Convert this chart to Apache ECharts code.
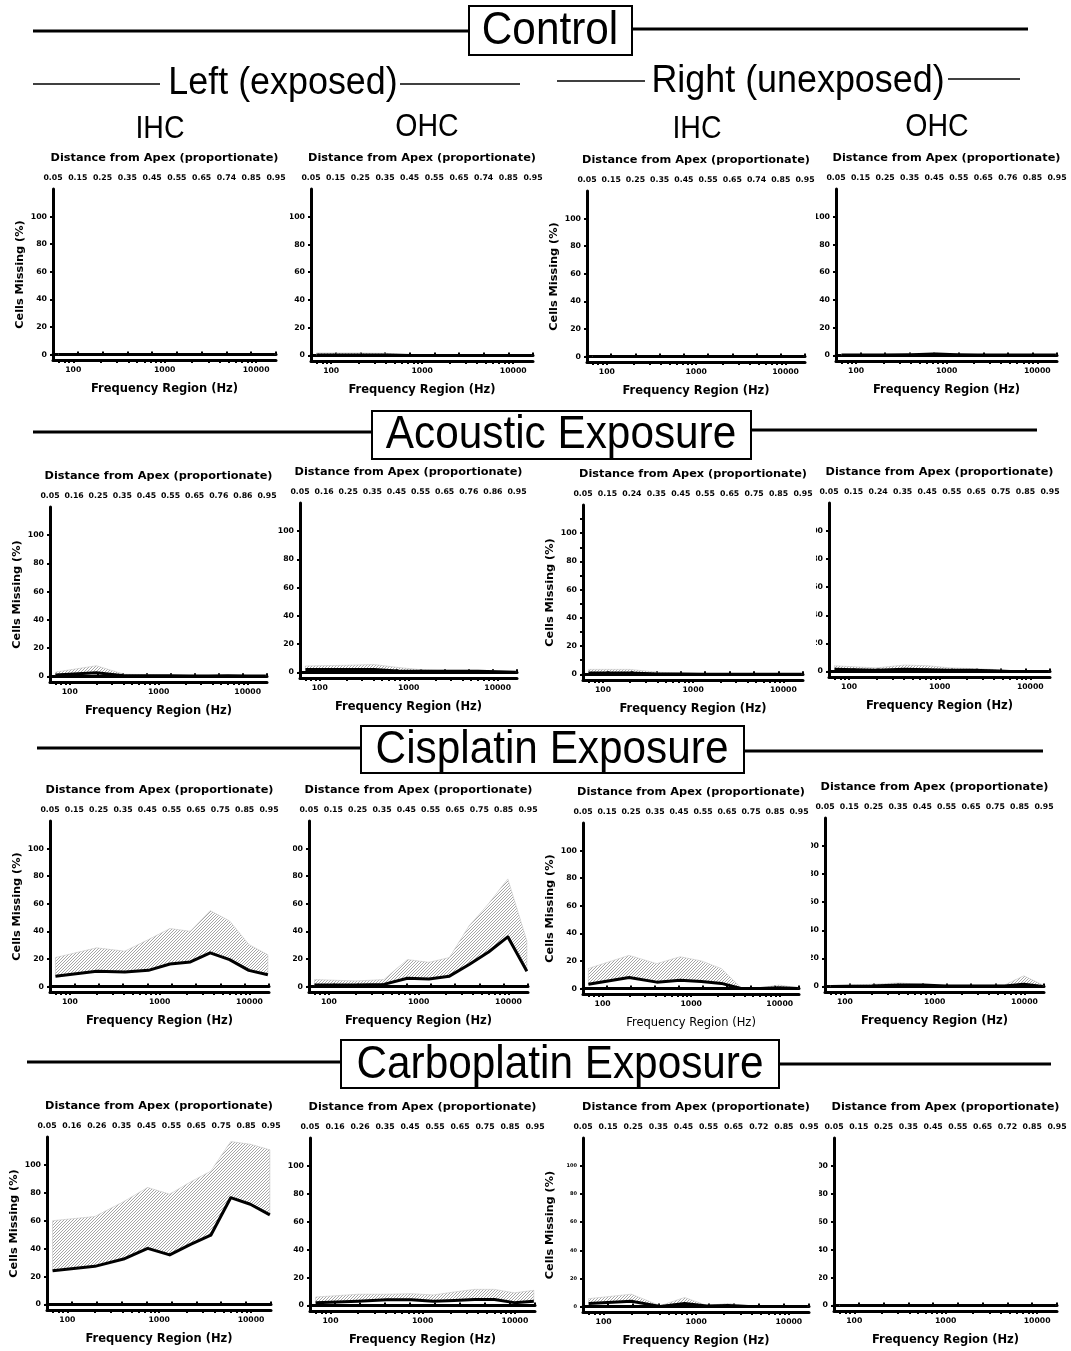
<!DOCTYPE html>
<html>
<head>
<meta charset="utf-8">
<script src="https://cdn.jsdelivr.net/npm/echarts@6/dist/echarts.min.js"></script>
<style>
  html, body { margin: 0; padding: 0; background: #fff; }
  #chart { width: 1071px; height: 1351px; }
</style>
</head>
<body>
<div id="chart"></div>
<script>
// Frequency (Hz) at each proportionate distance from the apex, 0.05 ... 0.95
const freqHz = [69, 199, 409, 749, 1301, 2197, 3649, 6005, 9826, 16024];

// Top-axis (distance) tick labels used by the different panels
const distTicksA = ['0.05','0.15','0.25','0.35','0.45','0.55','0.65','0.74','0.85','0.95'];
const distTicksB = ['0.05','0.15','0.25','0.35','0.45','0.55','0.65','0.76','0.85','0.95'];
const distTicksC = ['0.05','0.16','0.25','0.35','0.45','0.55','0.65','0.76','0.86','0.95'];
const distTicksD = ['0.05','0.15','0.24','0.35','0.45','0.55','0.65','0.75','0.85','0.95'];
const distTicksE = ['0.05','0.15','0.25','0.35','0.45','0.55','0.65','0.75','0.85','0.95'];
const distTicksF = ['0.05','0.16','0.26','0.35','0.45','0.55','0.65','0.75','0.85','0.95'];
const distTicksG = ['0.05','0.15','0.25','0.35','0.45','0.55','0.65','0.72','0.85','0.95'];

// Frequency axis labels and ticks
const freqLabels = [100, 1000, 10000];
const freqTicks = [70, 80, 90, 100, 200, 300, 400, 500, 600, 700, 800, 900,
                   1000, 2000, 3000, 4000, 5000, 6000, 7000, 8000, 9000, 10000];
const pctLabels = [0, 20, 40, 60, 80, 100];
const pctTicksFine = [0, 10, 20, 30, 40, 50, 60, 70, 80, 90, 100, 110];

// Cells missing (%): mean and upper edge of the spread (mean + SD)
// Control
const ctlLeftIhcMean  = [0, 0, 0, 0, 0, 0, 0, 0, 0, 0];
const ctlLeftIhcUpper = [0.5, 0.5, 0.5, 0.5, 0.5, 0.5, 0.5, 0.5, 0.5, 0.5];
const ctlLeftOhcMean  = [0.3, 0.3, 0.3, 0, 0, 0, 0, 0, 0, 0];
const ctlLeftOhcUpper = [1.8, 1.8, 1.5, 0.5, 0.3, 0.3, 0.3, 0.3, 0.3, 0.3];
const ctlRightIhcMean  = [0, 0, 0, 0, 0, 0, 0, 0, 0, 0];
const ctlRightIhcUpper = [0.3, 0.3, 0.3, 0.3, 0.3, 0.3, 0.3, 0.3, 0.3, 0.3];
const ctlRightOhcMean  = [0.3, 0.3, 0.5, 1, 0.5, 0.3, 0.3, 0.3, 0.3, 0.3];
const ctlRightOhcUpper = [0.8, 0.8, 1.2, 2, 1, 0.7, 0.6, 0.6, 0.6, 0.6];
// Acoustic exposure
const acLeftIhcMean  = [1, 2.5, 0.5, 0.5, 0.5, 0.3, 0.3, 0.5, 0.2, 0.3];
const acLeftIhcUpper = [3, 7.5, 1.5, 1.2, 1, 0.8, 0.8, 1, 0.6, 0.6];
const acLeftOhcMean  = [2, 2, 2, 1, 0.8, 0.7, 0.7, 0.7, 0.5, 0];
const acLeftOhcUpper = [4.5, 5, 5.5, 3.5, 2, 1.5, 1.5, 1.5, 1.2, 0.5];
const acRightIhcMean  = [1, 1, 0.3, 0.3, 0, 0, 0, 0, 0, 0];
const acRightIhcUpper = [3.5, 3.5, 1.5, 0.8, 0.5, 0.3, 0.3, 0.3, 0.3, 0.3];
const acRightOhcMean  = [1.5, 0.8, 1.5, 1.2, 0.8, 0.8, 0.5, 0, 0, 0];
const acRightOhcUpper = [4, 2.5, 4.5, 4, 2.5, 2, 1.5, 0.5, 0.3, 0.3];
// Cisplatin exposure
const cisLeftIhcMean  = [7.5, 11, 10.5, 11.7, 16.3, 17.8, 24.4, 19.5, 11.7, 8.5];
const cisLeftIhcUpper = [21, 28, 25.6, 34, 42, 40, 55, 47.5, 30.5, 23];
const cisLeftOhcMean  = [1, 1, 1.5, 6, 5.5, 7.5, 16, 25, 36, 11];
const cisLeftOhcUpper = [5, 4, 5, 19.5, 17.5, 21, 44, 60, 78, 33];
const cisRightIhcMean  = [3, 8, 4.6, 6, 5, 3.7, 0, 0, 0.5, 0];
const cisRightIhcUpper = [14.5, 24, 18, 23, 20, 14.4, 0.5, 0.5, 2.5, 0.5];
const cisRightOhcMean  = [0, 0.3, 1, 1, 0.3, 0.3, 0.3, 0.3, 1.5, 0];
const cisRightOhcUpper = [0.5, 1.5, 2.5, 1.2, 0.8, 0.8, 0.8, 1, 7.5, 1];
// Carboplatin exposure
const carLeftIhcMean  = [24.2, 27.3, 32.5, 40.2, 35.5, 43, 49.6, 76.5, 71.8, 64.2];
const carLeftIhcUpper = [60, 63, 73.6, 83.8, 79, 87.8, 95.5, 116.7, 114.8, 110.8];
const carLeftOhcMean  = [2, 3, 4, 4, 3, 3.6, 4.3, 4.3, 2, 3];
const carLeftOhcUpper = [6, 8, 8, 8.4, 7.5, 9.6, 11.5, 11.5, 9, 10.8];
const carRightIhcMean  = [2, 3.6, 0, 2, 0.3, 0.7, 0, 0, 0, 0];
const carRightIhcUpper = [5.5, 8.7, 0.5, 6.3, 0.7, 2, 0.5, 0.3, 0.3, 0.3];
const carRightOhcMean  = [0, 0, 0, 0, 0, 0, 0, 0, 0, 0];
const carRightOhcUpper = [0.3, 0.3, 0.3, 0.3, 0.3, 0.3, 0.3, 0.3, 0.3, 0.3];

// Panel layout: plot box [left, top, right, bottom] in page pixels
const panels = [
  { mean: ctlLeftIhcMean,  upper: ctlLeftIhcUpper,  ticks: distTicksA, box: [53, 189, 276, 360],  yTitle: true },
  { mean: ctlLeftOhcMean,  upper: ctlLeftOhcUpper,  ticks: distTicksA, box: [311, 189, 533, 361], yTitle: false },
  { mean: ctlRightIhcMean, upper: ctlRightIhcUpper, ticks: distTicksA, box: [587, 191, 805, 362], yTitle: true },
  { mean: ctlRightOhcMean, upper: ctlRightOhcUpper, ticks: distTicksB, box: [836, 189, 1057, 361], yTitle: false },

  { mean: acLeftIhcMean,  upper: acLeftIhcUpper,  ticks: distTicksC, box: [50, 507, 267, 682],  yTitle: true },
  { mean: acLeftOhcMean,  upper: acLeftOhcUpper,  ticks: distTicksC, box: [300, 503, 517, 678], yTitle: false },
  { mean: acRightIhcMean, upper: acRightIhcUpper, ticks: distTicksD, box: [583, 505, 803, 680], yTitle: true, fineY: true },
  { mean: acRightOhcMean, upper: acRightOhcUpper, ticks: distTicksD, box: [829, 503, 1050, 677], yTitle: false },

  { mean: cisLeftIhcMean,  upper: cisLeftIhcUpper,  ticks: distTicksE, box: [50, 821, 269, 992],  yTitle: true },
  { mean: cisLeftOhcMean,  upper: cisLeftOhcUpper,  ticks: distTicksE, box: [309, 821, 528, 992], yTitle: false },
  { mean: cisRightIhcMean, upper: cisRightIhcUpper, ticks: distTicksE, box: [583, 823, 799, 994], yTitle: true, lightX: true },
  { mean: cisRightOhcMean, upper: cisRightOhcUpper, ticks: distTicksE, box: [825, 818, 1044, 992], yTitle: false },

  { mean: carLeftIhcMean,  upper: carLeftIhcUpper,  ticks: distTicksF, box: [47, 1137, 271, 1310],  yTitle: true },
  { mean: carLeftOhcMean,  upper: carLeftOhcUpper,  ticks: distTicksF, box: [310, 1138, 535, 1311], yTitle: false },
  { mean: carRightIhcMean, upper: carRightIhcUpper, ticks: distTicksG, box: [583, 1138, 809, 1312], yTitle: true, tinyY: true },
  { mean: carRightOhcMean, upper: carRightOhcUpper, ticks: distTicksG, box: [834, 1138, 1057, 1311], yTitle: false }
];

const FONT = 'DejaVu Sans';
const HEAD_FONT = 'Liberation Sans';

// Fine diagonal hatch used for the spread band
function hatchTile() {
  const c = document.createElement('canvas');
  c.width = 3; c.height = 3;
  const g = c.getContext('2d');
  g.strokeStyle = '#8e8e8e';
  g.lineWidth = 0.8;
  g.beginPath();
  g.moveTo(-1, 1); g.lineTo(1, -1);
  g.moveTo(0, 3); g.lineTo(3, 0);
  g.moveTo(2, 4); g.lineTo(4, 2);
  g.stroke();
  return c;
}
const hatch = { image: hatchTile(), repeat: 'repeat' };

const grid = [], xAxis = [], yAxis = [], series = [];
const txt = (size, weight) => ({ fontFamily: FONT, fontWeight: weight || 'bold', fontSize: size, color: '#000' });

panels.forEach((p, i) => {
  const [L, T, R, B] = p.box;
  grid.push({ left: L, top: T, width: R - L, height: B - T });

  // bottom: frequency (log)
  xAxis.push({
    type: 'log', logBase: 10, gridIndex: i, position: 'bottom', min: 60, max: 16500,
    axisLine: { onZero: false, lineStyle: { color: '#000', width: 3 } },
    axisTick: { show: true, customValues: freqTicks, length: 3, lineStyle: { color: '#000', width: 2 } },
    minorTick: { show: false },
    splitLine: { show: false },
    axisLabel: { customValues: freqLabels, formatter: v => String(Math.round(v)), margin: 6, ...txt(7.7) },
    name: 'Frequency Region (Hz)', nameLocation: 'middle', nameGap: 23,
    nameTextStyle: txt(11.5, p.lightX ? 'normal' : 'bold')
  });
  // top: proportionate distance from apex
  xAxis.push({
    type: 'category', gridIndex: i, position: 'top', data: p.ticks, boundaryGap: false,
    axisLine: { lineStyle: { color: '#000', width: 3 } },
    axisTick: { show: true, length: 3, lineStyle: { color: '#000', width: 2 } },
    splitLine: { show: false },
    axisLabel: { interval: 0, margin: 7, ...txt(7.8) },
    name: 'Distance from Apex (proportionate)', nameLocation: 'middle', nameGap: 25,
    nameTextStyle: txt(11.3)
  });
  yAxis.push({
    type: 'value', gridIndex: i, min: -4, max: 120,
    axisLine: { show: true, onZero: false, lineStyle: { color: '#000', width: 3 } },
    axisTick: { show: true, customValues: p.fineY ? pctTicksFine : pctLabels, length: 3, lineStyle: { color: '#000', width: 2 } },
    splitLine: { show: false },
    axisLabel: { customValues: pctLabels, margin: 6, ...txt(p.tinyY ? 5 : 7.8) },
    name: p.yTitle ? 'Cells Missing (%)' : '', nameLocation: 'middle', nameGap: 27,
    nameTextStyle: txt(11.3)
  });

  // hatched band between the mean and mean + SD, drawn as one polygon
  series.push({
    type: 'custom', xAxisIndex: 2 * i, yAxisIndex: i, silent: true, z: 2,
    data: p.mean.map((m, k) => [freqHz[k], m, p.upper[k]]),
    encode: { x: 0, y: [1, 2] },
    renderItem: (params, api) => {
      if (params.dataIndex !== 0) return null;
      const top = p.upper.map((u, k) => api.coord([freqHz[k], u]));
      const bottom = p.mean.map((m, k) => api.coord([freqHz[k], m])).reverse();
      return {
        type: 'polygon',
        shape: { points: top.concat(bottom) },
        style: { fill: hatch, stroke: '#c4c4c4', lineWidth: 0.6 }
      };
    }
  });
  // mean line
  series.push({
    type: 'line', xAxisIndex: 2 * i, yAxisIndex: i, data: p.mean.map((m, k) => [freqHz[k], m]),
    symbol: 'none', silent: true, lineStyle: { color: '#000', width: 3, join: 'round' }, z: 3
  });
});

// Section headings, group rules and cropped label edges
const graphic = [];
function rule(x1, y1, x2, y2, w) {
  graphic.push({ type: 'line', z: 50, shape: { x1, y1, x2, y2 }, style: { stroke: '#000', lineWidth: w } });
}
function label(text, x, y, size) {
  graphic.push({ type: 'text', z: 60, x, y, scaleX: 0.92,
    style: { text, fill: '#000', font: `${size}px "${HEAD_FONT}"`, textAlign: 'center', textVerticalAlign: 'middle' } });
}
function boxed(text, x0, y0, x1, y1, cx, cy, leftRule, rightRule) {
  rule(leftRule[0], leftRule[1], x0, leftRule[1], 3);
  rule(x1, rightRule[1], rightRule[0], rightRule[1], 3);
  graphic.push({ type: 'rect', z: 55, shape: { x: x0, y: y0, width: x1 - x0, height: y1 - y0 },
    style: { fill: '#fff', stroke: '#000', lineWidth: 2 } });
  label(text, cx, cy, 46);
}
boxed('Control', 469, 6, 632, 55, 550, 31, [33, 31], [1028, 29]);
boxed('Acoustic Exposure', 372, 411, 751, 459, 561, 435, [33, 432], [1037, 430]);
boxed('Cisplatin Exposure', 361, 726, 744, 773, 552, 750, [37, 748], [1043, 751]);
boxed('Carboplatin Exposure', 341, 1040, 779, 1088, 560, 1065, [27, 1062], [1051, 1064]);

rule(33, 84, 160, 84, 1.5);
rule(400, 84, 520, 84, 1.5);
rule(557, 81, 645, 81, 1.5);
rule(948, 79, 1020, 79, 1.5);
label('Left (exposed)', 283, 83, 39);
label('Right (unexposed)', 798, 81, 39);
label('IHC', 160, 129, 31);
label('OHC', 427, 127, 31);
label('IHC', 697, 129, 31);
label('OHC', 937, 127, 31);

// white masks where neighbouring panels overlap the y labels
[[282, 200, 8, 165], [808, 200, 8, 165], [806, 515, 10, 168], [285, 832, 8, 163],
 [802, 832, 9, 163], [811, 1150, 8, 165]].forEach(r => {
  graphic.push({ type: 'rect', z: 70, shape: { x: r[0], y: r[1], width: r[2], height: r[3] },
    style: { fill: '#fff' } });
});

const chart = echarts.init(document.getElementById('chart'), null, { renderer: 'canvas' });
chart.setOption({
  animation: false,
  backgroundColor: '#fff',
  grid, xAxis, yAxis, series, graphic
});
</script>
</body>
</html>
